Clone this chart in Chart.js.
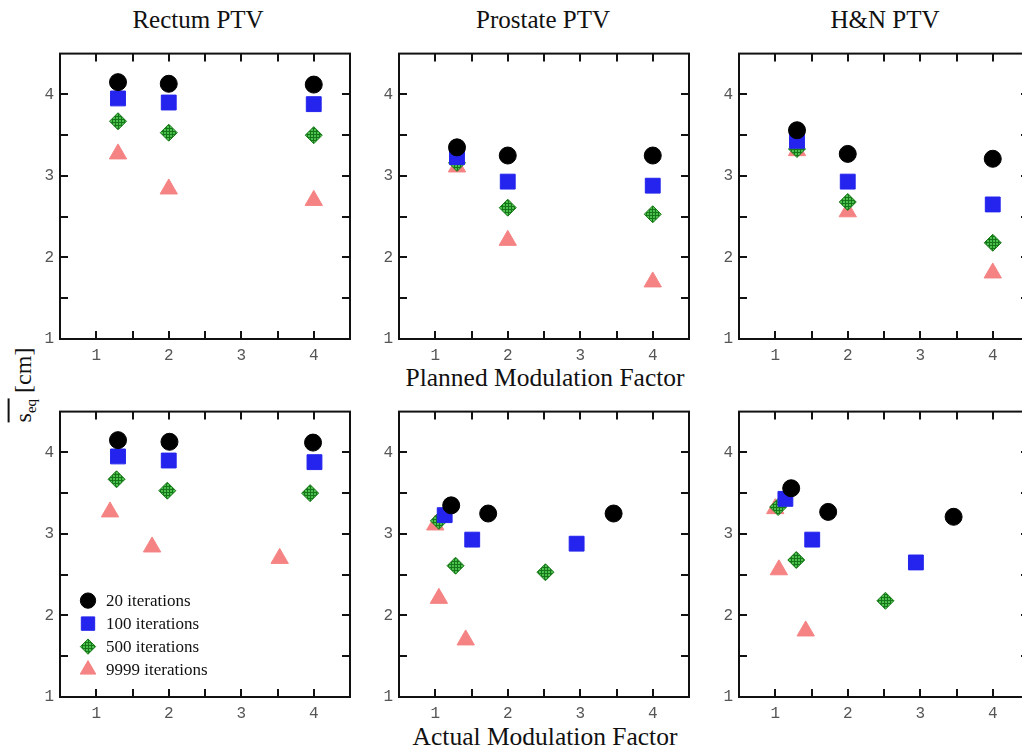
<!DOCTYPE html>
<html>
<head>
<meta charset="utf-8">
<script src="https://cdn.jsdelivr.net/npm/chart.js"></script>
<style>
  html, body { margin: 0; padding: 0; background: #fff; }
  body { width: 1022px; height: 750px; position: relative; overflow: hidden; font-family: "Liberation Serif", serif; }
  canvas { position: absolute; }
  .lbl { position: absolute; transform: translate(-50%, -50%); white-space: nowrap; color: #111; font-size: 25px; }
  .axt { font-size: 25.5px; }
  .ylab { position: absolute; left: 25px; top: 385px; transform: translate(-50%, -50%) rotate(-90deg); white-space: nowrap; font-size: 24px; color: #111; }
  .ylab .bar { border-top: 2px solid #111; }
  .ylab sub { font-size: 15px; }
</style>
</head>
<body>
<div class="lbl" style="left:198px; top:20px">Rectum PTV</div>
<div class="lbl" style="left:543px; top:20px">Prostate PTV</div>
<div class="lbl" style="left:885px; top:20px">H&amp;N PTV</div>
<div class="lbl axt" style="left:545px; top:378px">Planned Modulation Factor</div>
<div class="lbl axt" style="left:545px; top:737px">Actual Modulation Factor</div>
<div class="ylab"><span class="bar">s<sub>eq</sub></span> [cm]</div>

<canvas id="c0" width="352" height="333"></canvas>
<canvas id="c1" width="352" height="333"></canvas>
<canvas id="c2" width="352" height="333"></canvas>
<canvas id="c3" width="352" height="333"></canvas>
<canvas id="c4" width="352" height="333"></canvas>
<canvas id="c5" width="352" height="333"></canvas>

<script>
// series order: 20, 100, 500, 9999 iterations
const SERIES = ["20 iterations", "100 iterations", "500 iterations", "9999 iterations"];

// planned modulation factor (top row, same for every series)
const PLANNED_MF = [1.3, 2, 4];

// mean equivalent size s_eq [cm], one row per series
const RECTUM_SEQ   = [[4.15, 4.13, 4.12], [3.95, 3.90, 3.88], [3.67, 3.53, 3.50], [3.27, 2.84, 2.70]];
const PROSTATE_SEQ = [[3.35, 3.25, 3.25], [3.23, 2.93, 2.88], [3.16, 2.61, 2.53], [3.11, 2.21, 1.70]];
const HN_SEQ       = [[3.56, 3.27, 3.21], [3.43, 2.93, 2.65], [3.33, 2.68, 2.18], [3.31, 2.56, 1.81]];

// actual modulation factor (bottom row), one row per series
const RECTUM_ACTUAL   = [[1.30, 2.01, 3.99], [1.30, 2.00, 4.01], [1.28, 1.98, 3.95], [1.19, 1.77, 3.53]];
const PROSTATE_ACTUAL = [[1.22, 1.73, 3.46], [1.13, 1.51, 2.95], [1.05, 1.28, 2.52], [1.00, 1.05, 1.42]];
const HN_ACTUAL       = [[1.22, 1.73, 3.46], [1.14, 1.51, 2.94], [1.04, 1.29, 2.52], [1.00, 1.05, 1.42]];

// axis ticks
const X_TICKS = [1, 2, 3, 4];
const Y_TICKS = [1, 2, 3, 4];
const X_MARKS = [1, 1.5, 2, 2.5, 3, 3.5, 4];
const Y_MARKS = [1.5, 2, 2.5, 3, 3.5, 4];

// green crosshatch fill for the 500 iterations diamonds
function hatch() {
  const c = document.createElement("canvas");
  c.width = 3; c.height = 3;
  const g = c.getContext("2d");
  g.fillStyle = "#4cc04c";
  g.fillRect(0, 0, 3, 3);
  g.fillStyle = "#16761a";
  g.fillRect(0, 0, 3, 1);
  g.fillRect(0, 0, 1, 3);
  return g.createPattern(c, "repeat");
}
const pat = hatch();

const STYLES = [
  { pointStyle: "circle",   radius: 8.5, bg: "#000000", border: "#000000" },
  { pointStyle: "rect",     radius: 10.5, bg: "#2424ee", border: "#2424ee" },
  { pointStyle: "rectRot",  radius: 8.5, bg: pat,       border: "#1a7a1a" },
  { pointStyle: "triangle", radius: 10,  bg: "#f58383", border: "#f58383" }
];

const framePlugin = {
  id: "frame",
  beforeDatasetsDraw(chart) {
    const { ctx, chartArea: a, scales } = chart;
    ctx.save();
    ctx.strokeStyle = "#111";
    ctx.lineWidth = 2;
    ctx.strokeRect(a.left, a.top, a.right - a.left, a.bottom - a.top);
    ctx.beginPath();
    X_MARKS.forEach(v => {
      const px = Math.round(scales.x.getPixelForValue(v));
      ctx.moveTo(px, a.bottom); ctx.lineTo(px, a.bottom - 8);
      ctx.moveTo(px, a.top); ctx.lineTo(px, a.top + 8);
    });
    Y_MARKS.forEach(v => {
      const py = Math.round(scales.y.getPixelForValue(v));
      ctx.moveTo(a.left, py); ctx.lineTo(a.left + 8, py);
      ctx.moveTo(a.right, py); ctx.lineTo(a.right - 8, py);
    });
    ctx.stroke();
    ctx.restore();
  }
};

const legendPlugin = {
  id: "innerLegend",
  afterDraw(chart) {
    const { ctx, chartArea: a } = chart;
    ctx.save();
    ctx.font = "17px 'Liberation Serif', serif";
    ctx.textBaseline = "middle";
    SERIES.forEach((name, i) => {
      const s = STYLES[i];
      const cy = a.top + 189 + i * 23;
      const cx = a.left + 28;
      ctx.fillStyle = s.bg;
      ctx.strokeStyle = s.border;
      ctx.lineWidth = 1;
      Chart.helpers.drawPoint(ctx, { pointStyle: s.pointStyle, radius: s.radius * 0.9, rotation: 0, borderWidth: 1 }, cx, cy);
      ctx.fillStyle = "#111";
      ctx.fillText(name, a.left + 46, cy + 1);
    });
    ctx.restore();
  }
};

function makeChart(id, left, top, xs, ys, withLegend) {
  const canvas = document.getElementById(id);
  canvas.style.left = (left - 50) + "px";
  canvas.style.top = (top - 12) + "px";
  const datasets = SERIES.map((name, i) => ({
    label: name,
    data: ys[i].map((v, j) => ({ x: xs[i][j], y: v })),
    pointStyle: STYLES[i].pointStyle,
    pointRadius: STYLES[i].radius,
    pointBackgroundColor: STYLES[i].bg,
    pointBorderColor: STYLES[i].border,
    pointBorderWidth: 1,
    showLine: false
  }));
  new Chart(canvas, {
    type: "scatter",
    data: { datasets },
    options: {
      responsive: false,
      animation: false,
      events: [],
      layout: { padding: { top: 12, right: 12, bottom: 2, left: 0 } },
      plugins: { legend: { display: false }, tooltip: { enabled: false } },
      scales: {
        x: {
          type: "linear", min: 0.5, max: 4.5,
          grid: { display: false, drawTicks: false },
          border: { display: false },
          afterBuildTicks: s => { s.ticks = X_TICKS.map(v => ({ value: v })); },
          afterFit: s => { s.height = 30; },
          ticks: { padding: 7, color: "#555", font: { family: "'Liberation Mono', monospace", size: 16 } }
        },
        y: {
          type: "linear", min: 1, max: 4.5,
          grid: { display: false, drawTicks: false },
          border: { display: false },
          afterBuildTicks: s => { s.ticks = Y_TICKS.map(v => ({ value: v })); },
          afterFit: s => { s.width = 50; },
          ticks: { padding: 6, color: "#555", font: { family: "'Liberation Mono', monospace", size: 16 } }
        }
      }
    },
    plugins: withLegend ? [framePlugin, legendPlugin] : [framePlugin]
  });
}

const planned = SERIES.map(() => PLANNED_MF);
makeChart("c0", 60, 50, planned, RECTUM_SEQ, false);
makeChart("c1", 399, 50, planned, PROSTATE_SEQ, false);
makeChart("c2", 739, 50, planned, HN_SEQ, false);
makeChart("c3", 60, 408, RECTUM_ACTUAL, RECTUM_SEQ, true);
makeChart("c4", 399, 408, PROSTATE_ACTUAL, PROSTATE_SEQ, false);
makeChart("c5", 739, 408, HN_ACTUAL, HN_SEQ, false);
</script>
</body>
</html>
